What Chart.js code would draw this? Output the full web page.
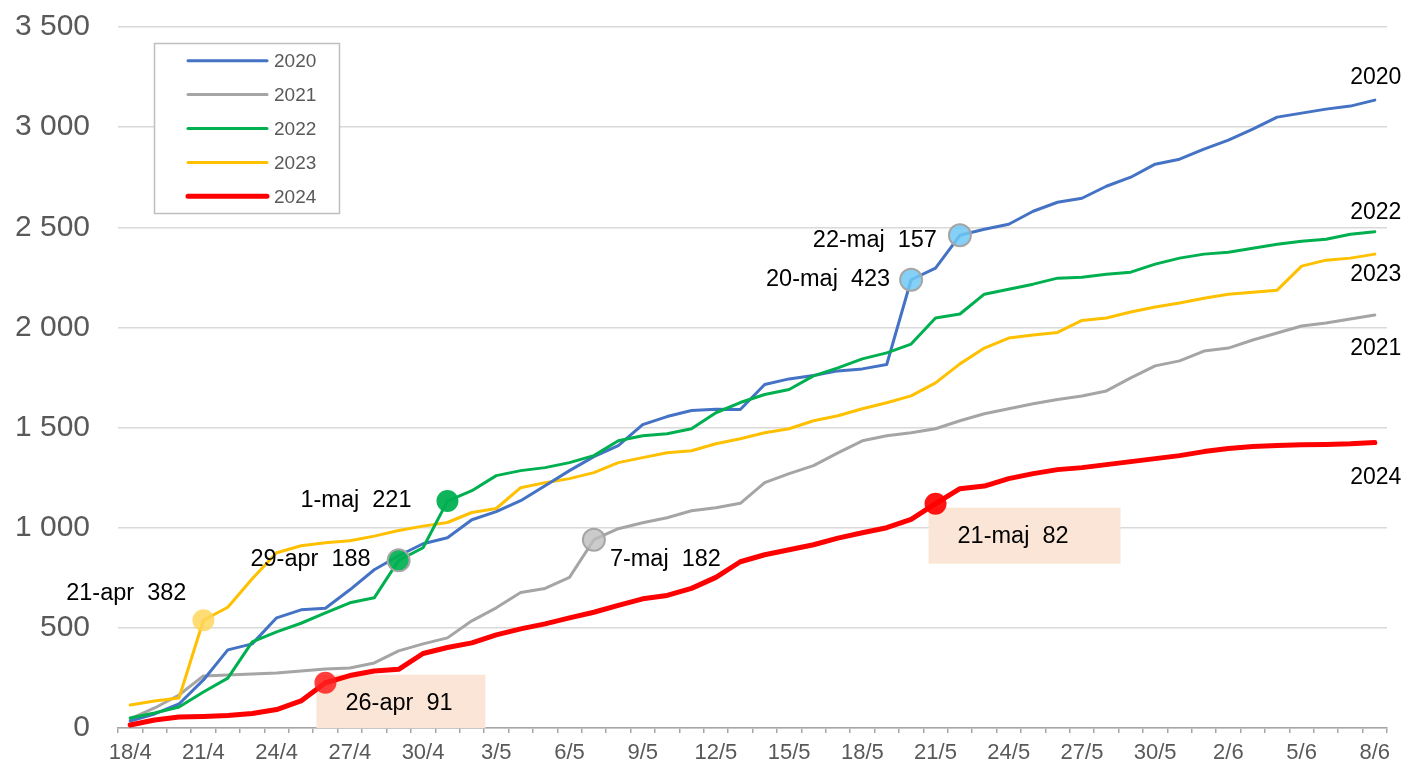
<!DOCTYPE html>
<html><head><meta charset="utf-8">
<script src="https://cdn.jsdelivr.net/npm/chart.js@4.4.1/dist/chart.umd.min.js"></script>
<style>html,body{margin:0;padding:0;background:#fff}canvas{display:block}</style>
</head><body>
<canvas id="c" width="1409" height="765"></canvas>
<script>
// ---------- DATA ----------
const categories = ['18/4','19/4','20/4','21/4','22/4','23/4','24/4','25/4','26/4','27/4','28/4','29/4','30/4',
  '1/5','2/5','3/5','4/5','5/5','6/5','7/5','8/5','9/5','10/5','11/5','12/5','13/5','14/5','15/5','16/5','17/5',
  '18/5','19/5','20/5','21/5','22/5','23/5','24/5','25/5','26/5','27/5','28/5','29/5','30/5','31/5',
  '1/6','2/6','3/6','4/6','5/6','6/6','7/6','8/6'];
const tickLabels = ['18/4','21/4','24/4','27/4','30/4','3/5','6/5','9/5','12/5','15/5','18/5','21/5','24/5','27/5','30/5','2/6','5/6','8/6'];
const yTicks = [0,500,1000,1500,2000,2500,3000,3500];

const s2020 = [35,70,120,240,390,420,550,590,598,690,790,860,920,950,1040,1080,1135,1210,1285,1355,
  1410,1515,1555,1585,1592,1590,1715,1743,1760,1783,1793,1815,2238,2296,2460,2490,2515,2580,2625,2645,
  2705,2750,2815,2840,2890,2935,2990,3050,3070,3090,3105,3135];
const s2021 = [45,100,165,260,265,270,275,285,295,300,325,385,420,450,535,600,677,697,752,940,
  995,1025,1050,1085,1100,1122,1225,1270,1310,1374,1434,1459,1474,1494,1534,1569,1594,1619,1640,1658,
  1683,1748,1808,1833,1882,1897,1937,1972,2007,2022,2042,2062];
const s2022 = [50,75,105,180,249,430,480,523,575,625,650,837,900,1133,1185,1260,1285,1300,1325,1360,
  1434,1459,1469,1494,1574,1625,1665,1690,1758,1798,1843,1873,1917,2047,2067,2166,2191,2216,2246,2251,
  2266,2276,2316,2346,2366,2375,2395,2415,2430,2440,2465,2478];
const s2023 = [115,135,150,538,603,745,875,910,925,935,958,986,1008,1026,1076,1096,1200,1225,1245,1275,
  1325,1350,1374,1384,1419,1444,1474,1494,1534,1559,1594,1624,1658,1723,1818,1897,1947,1962,1975,2035,
  2047,2077,2102,2122,2146,2166,2176,2186,2306,2336,2346,2366];
const s2024 = [15,40,55,58,62,72,92,135,226,262,285,293,372,402,425,465,495,520,550,578,
  612,645,662,697,752,830,865,890,915,948,975,1000,1042,1120,1195,1208,1245,1270,1290,1300,
  1315,1330,1345,1360,1380,1395,1405,1410,1414,1416,1419,1425];

const seriesNames = ['2020','2021','2022','2023','2024'];
const seriesValues = [s2020, s2021, s2022, s2023, s2024];

// highlighted days: series, date, label
const highlightSeries = ['2023','2024','2022','2022','2021','2020','2020','2024'];
const highlightDates  = ['21/4','26/4','29/4','1/5','7/5','20/5','22/5','21/5'];
const highlightTexts  = ['21-apr  382','26-apr  91','29-apr  188','1-maj  221','7-maj  182','20-maj  423','22-maj  157','21-maj  82'];

// ---------- STYLE ----------
const FONT = "'Liberation Sans', Arial, sans-serif";
const lineColors = {'2020':'#4472c4','2021':'#a5a5a5','2022':'#00b050','2023':'#ffc000','2024':'#ff0000'};
const lineWidths = {'2020':3,'2021':3,'2022':3,'2023':3,'2024':5};
const drawOrder  = {'2020':2,'2021':4,'2022':1,'2023':3,'2024':0};
const hlStyle = [
  {dx:-17, dy:-27, align:'right', fill:'rgba(255,214,92,0.85)', border:null},
  {dx:20,  dy:21,  align:'left',  fill:'rgba(255,30,30,0.85)',  border:null, box:[-9,160,-8,null]},
  {dx:-28, dy:-1,  align:'right', fill:'rgba(0,176,80,0.92)',   border:'#a6a6a6'},
  {dx:-36, dy:-1,  align:'right', fill:'rgba(0,176,80,0.95)',   border:null},
  {dx:16,  dy:20,  align:'left',  fill:'rgba(190,190,190,0.8)', border:'#a6a6a6'},
  {dx:-21, dy:0,   align:'right', fill:'rgba(110,200,245,0.85)',border:'#a6a6a6'},
  {dx:-23, dy:5,   align:'right', fill:'rgba(110,200,245,0.85)',border:'#a6a6a6'},
  {dx:22,  dy:33,  align:'left',  fill:'rgba(255,0,0,0.92)',    border:null, box:[-7,185,4,60]}
];
const endLabelOffset = {'2020':-22,'2021':34,'2022':-19,'2023':21,'2024':35};

function hlFor(name, idx){
  for (let k=0;k<highlightSeries.length;k++){
    if (highlightSeries[k]===name && categories.indexOf(highlightDates[k])===idx) return k;
  }
  return -1;
}
function fmt(v){ return String(v).replace(/\B(?=(\d{3})+(?!\d))/g,' '); }

const datasets = seriesNames.map((name,si)=>({
  label:name,
  data:seriesValues[si],
  borderColor:lineColors[name],
  backgroundColor:lineColors[name],
  borderWidth:lineWidths[name],
  tension:0,
  borderJoinStyle:'round',
  borderCapStyle:'round',
  fill:false,
  order:drawOrder[name],
  pointRadius:ctx=> hlFor(name,ctx.dataIndex)>=0 ? 11 : 0,
  pointHoverRadius:ctx=> hlFor(name,ctx.dataIndex)>=0 ? 11 : 0,
  pointBackgroundColor:ctx=>{const k=hlFor(name,ctx.dataIndex);return k>=0?hlStyle[k].fill:'transparent';},
  pointBorderColor:ctx=>{const k=hlFor(name,ctx.dataIndex);return k>=0&&hlStyle[k].border?hlStyle[k].border:'rgba(0,0,0,0)';},
  pointBorderWidth:ctx=>{const k=hlFor(name,ctx.dataIndex);return k>=0&&hlStyle[k].border?2:0;}
}));

function ptPixel(chart, name, date){
  const si = seriesNames.indexOf(name), idx = categories.indexOf(date);
  return {x:chart.scales.x.getPixelForValue(idx), y:chart.scales.y.getPixelForValue(seriesValues[si][idx])};
}

const overlay = {
  id:'overlay',
  beforeDatasetsDraw(chart){
    const ctx = chart.ctx; ctx.save();
    ctx.fillStyle = '#fbe5d6';
    highlightSeries.forEach((name,k)=>{
      const b = hlStyle[k].box; if(!b) return;
      const p = ptPixel(chart,name,highlightDates[k]);
      const y2 = b[3]===null ? chart.chartArea.bottom : p.y+b[3];
      ctx.fillRect(p.x+b[0], p.y+b[2], b[1]-b[0], y2-(p.y+b[2]));
    });
    ctx.restore();
  },
  afterDraw(chart){
    const ctx = chart.ctx; ctx.save();
    ctx.font = '23.5px '+FONT; ctx.fillStyle = '#000'; ctx.textBaseline = 'middle';
    highlightSeries.forEach((name,k)=>{
      const p = ptPixel(chart,name,highlightDates[k]); const st = hlStyle[k];
      ctx.textAlign = st.align;
      ctx.fillText(highlightTexts[k], p.x+st.dx, p.y+st.dy);
    });
    ctx.font = '23px '+FONT; ctx.textAlign = 'center';
    seriesNames.forEach(name=>{
      const p = ptPixel(chart,name,categories[categories.length-1]);
      ctx.fillText(name, p.x+1, p.y+endLabelOffset[name]);
    });
    ctx.fillStyle = '#fff'; ctx.strokeStyle = '#bfbfbf'; ctx.lineWidth = 1.5;
    ctx.fillRect(154.5,43.5,185,170); ctx.strokeRect(154.5,43.5,185,170);
    ctx.font = '19px '+FONT; ctx.textAlign = 'left'; ctx.textBaseline = 'middle';
    seriesNames.forEach((name,i)=>{
      const y = 60.7 + 33.9*i;
      ctx.strokeStyle = lineColors[name]; ctx.lineWidth = lineWidths[name]; ctx.lineCap = 'round';
      ctx.beginPath(); ctx.moveTo(188,y); ctx.lineTo(267,y); ctx.stroke();
      ctx.fillStyle = '#595959'; ctx.fillText(name, 274, y+1);
    });
    ctx.restore();
  }
};

new Chart(document.getElementById('c'), {
  type:'line',
  data:{labels:categories, datasets},
  options:{
    responsive:false, animation:false, devicePixelRatio:1,
    layout:{padding:{left:0,right:22,top:27,bottom:0}},
    plugins:{legend:{display:false}, tooltip:{enabled:false}},
    events:[],
    scales:{
      x:{
        type:'category', offset:true,
        grid:{display:true, offset:true, drawOnChartArea:false, drawTicks:true, tickLength:5, color:'#a6a6a6', lineWidth:1.5},
        border:{display:true, color:'#a6a6a6', width:1.5},
        ticks:{autoSkip:false, maxRotation:0, minRotation:0, padding:7, color:'#595959', font:{family:FONT, size:22},
          callback:function(v){ const l=this.getLabelForValue(v); return tickLabels.includes(l)?l:''; }},
        afterFit(s){ s.height = 37; }
      },
      y:{
        min:yTicks[0], max:yTicks[yTicks.length-1],
        afterBuildTicks(s){ s.ticks = yTicks.map(v=>({value:v})); },
        ticks:{padding:0, color:'#595959', font:{family:FONT, size:30}, callback:v=>fmt(v)},
        grid:{color:'#d9d9d9', lineWidth:1.5, drawTicks:true, tickLength:28, tickColor:'rgba(0,0,0,0)'},
        border:{display:false},
        afterFit(s){ s.width = 118; }
      }
    }
  },
  plugins:[overlay]
});
</script>
</body></html>
